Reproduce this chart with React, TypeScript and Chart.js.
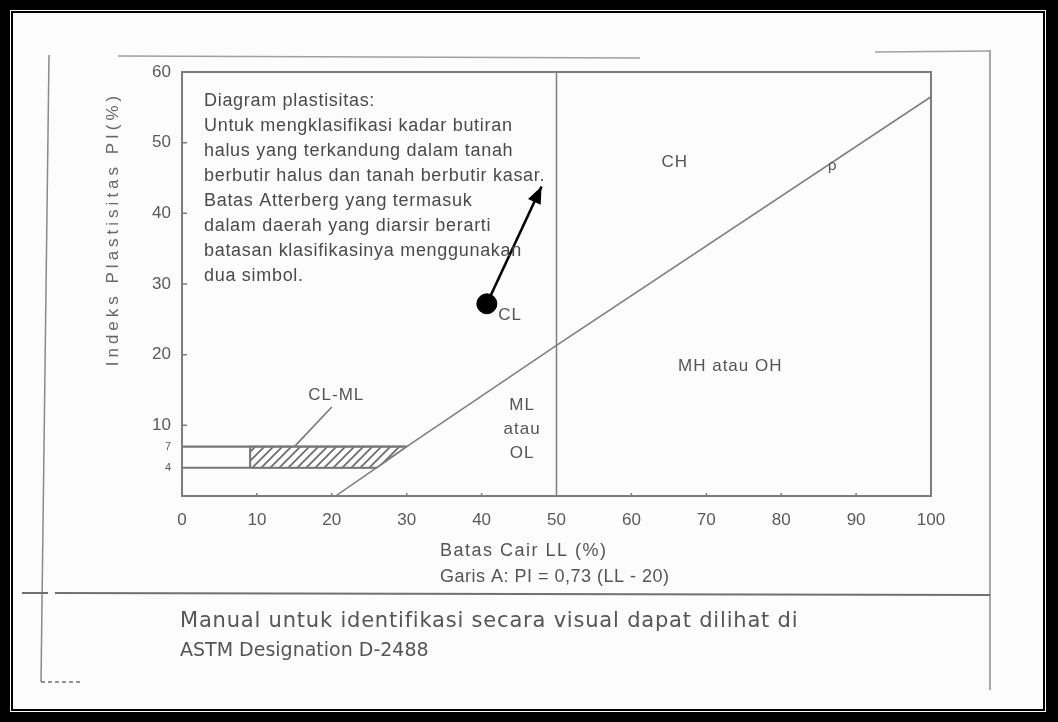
import React, { useEffect, useRef } from "react";
import { Chart, registerables } from "chart.js";

Chart.register(...registerables);

// ---------- data ----------
const xTickValues = [0, 10, 20, 30, 40, 50, 60, 70, 80, 90, 100];
const yTickValues = [4, 7, 10, 20, 30, 40, 50, 60];
const yTickLabels = ["4", "7", "10", "20", "30", "40", "50", "60"];

// A-line (Garis A)
const aLineLL = [20.5, 26, 30, 50, 100];
const aLinePI = [0, 4, 7, 21.3, 56.5];
// LL = 50 divider
const dividerLL = [50, 50];
const dividerPI = [0, 60];
// CL-ML band borders
const band7LL = [0, 30];
const band7PI = [7, 7];
const band4LL = [0, 26];
const band4PI = [4, 4];
const bandSplitLL = [9.1, 9.1];
const bandSplitPI = [4, 7];
// hatched (dual symbol) zone
const hatchLL = [9.1, 9.1, 30, 26, 9.1];
const hatchPI = [4, 7, 7, 4, 4];
// CL-ML leader line
const leaderLL = [20, 15.1];
const leaderPI = [12.6, 7.1];
// sample point and arrow
const sampleLL = [40.7];
const samplePI = [27.2];
const arrowLL = [40.7, 48];
const arrowPI = [27.2, 43.8];

// zone labels
const zoneLabels = ["CH", "MH atau OH", "CL", "ML", "atau", "OL", "CL-ML", "ρ"];
const zoneLL = [65.8, 73.2, 43.8, 45.4, 45.4, 45.4, 20.6, 86.9];
const zonePI = [47.2, 18.3, 25.5, 12.9, 9.4, 6.1, 14.3, 46.7];

const noteLines = [
  "Diagram plastisitas:",
  "Untuk mengklasifikasi kadar butiran",
  "halus yang terkandung dalam tanah",
  "berbutir halus dan tanah berbutir kasar.",
  "Batas Atterberg yang termasuk",
  "dalam daerah yang diarsir berarti",
  "batasan klasifikasinya menggunakan",
  "dua simbol.",
];

const xTitleLines = ["Batas Cair LL (%)", "Garis A: PI = 0,73 (LL - 20)"];
const yTitle = "Indeks Plastisitas PI(%)";
const footerLines = [
  "Manual untuk identifikasi secara visual dapat dilihat di",
  "ASTM Designation D-2488",
];

// ---------- helpers ----------
const FONT = "'Liberation Sans', Arial, sans-serif";
const WIDE = "'DejaVu Sans', 'Liberation Sans', sans-serif";
const INK = "#555";
const LINE = "#7d7d7d";

const pts = (xs: number[], ys: number[]) => xs.map((x, i) => ({ x, y: ys[i] }));

function makeHatch(): CanvasPattern | string {
  const c = document.createElement("canvas");
  c.width = 9;
  c.height = 9;
  const g = c.getContext("2d");
  if (!g) return "#ccc";
  g.fillStyle = "#fff";
  g.fillRect(0, 0, 9, 9);
  g.strokeStyle = "#6e6e6e";
  g.lineWidth = 1.8;
  g.beginPath();
  g.moveTo(-1, 10);
  g.lineTo(10, -1);
  g.moveTo(-1, 1);
  g.lineTo(1, -1);
  g.moveTo(8, 10);
  g.lineTo(10, 8);
  g.stroke();
  return g.createPattern(c, "repeat") || "#ccc";
}

function text(
  ctx: CanvasRenderingContext2D,
  s: string,
  x: number,
  y: number,
  font: string,
  color: string,
  align: CanvasTextAlign = "left",
  spacing = "0px"
) {
  ctx.save();
  ctx.font = font;
  ctx.fillStyle = color;
  ctx.textAlign = align;
  ctx.textBaseline = "middle";
  (ctx as any).letterSpacing = spacing;
  ctx.fillText(s, x, y);
  ctx.restore();
}

const decor = {
  id: "decor",
  beforeDraw(chart: any) {
    const ctx: CanvasRenderingContext2D = chart.ctx;
    ctx.save();
    ctx.strokeStyle = "#8a8a8a";
    ctx.lineWidth = 1.5;
    // page edges of the scanned sheet
    ctx.beginPath();
    ctx.moveTo(49, 55);
    ctx.lineTo(41, 682);
    ctx.moveTo(990, 50);
    ctx.lineTo(990, 690);
    ctx.stroke();
    ctx.strokeStyle = "#a0a0a0";
    ctx.lineWidth = 1.5;
    ctx.beginPath();
    ctx.moveTo(118, 56);
    ctx.lineTo(640, 58);
    ctx.moveTo(875, 52);
    ctx.lineTo(990, 51);
    ctx.stroke();
    ctx.strokeStyle = "#707070";
    ctx.lineWidth = 2;
    ctx.beginPath();
    ctx.moveTo(22, 593);
    ctx.lineTo(48, 593);
    ctx.moveTo(55, 593);
    ctx.lineTo(990, 595);
    ctx.stroke();
    ctx.setLineDash([4, 3]);
    ctx.lineWidth = 1.5;
    ctx.beginPath();
    ctx.moveTo(41, 682);
    ctx.lineTo(82, 682);
    ctx.stroke();
    ctx.restore();
  },
  afterDatasetsDraw(chart: any) {
    const ctx: CanvasRenderingContext2D = chart.ctx;
    const { left, right, top, bottom } = chart.chartArea;
    const xs = chart.scales.x;
    const ys = chart.scales.y;

    // plot box
    ctx.save();
    ctx.strokeStyle = LINE;
    ctx.lineWidth = 2;
    ctx.strokeRect(left, top, right - left, bottom - top);
    // small inward tick marks
    ctx.lineWidth = 1.5;
    ctx.beginPath();
    [10, 20, 30, 40, 50].forEach((v) => {
      const y = ys.getPixelForValue(v);
      ctx.moveTo(left, y);
      ctx.lineTo(left + 5, y);
    });
    [10, 20, 30, 40, 60, 70, 80, 90].forEach((v) => {
      const x = xs.getPixelForValue(v);
      ctx.moveTo(x, bottom);
      ctx.lineTo(x, bottom - 3);
    });
    ctx.stroke();
    ctx.restore();

    // arrow head
    const x1 = xs.getPixelForValue(arrowLL[0]);
    const y1 = ys.getPixelForValue(arrowPI[0]);
    const x2 = xs.getPixelForValue(arrowLL[1]);
    const y2 = ys.getPixelForValue(arrowPI[1]);
    const ang = Math.atan2(y2 - y1, x2 - x1);
    const hl = 17;
    const hw = 7;
    ctx.save();
    ctx.fillStyle = "#000";
    ctx.beginPath();
    ctx.moveTo(x2, y2);
    ctx.lineTo(x2 - hl * Math.cos(ang) + hw * Math.sin(ang), y2 - hl * Math.sin(ang) - hw * Math.cos(ang));
    ctx.lineTo(x2 - hl * Math.cos(ang) - hw * Math.sin(ang), y2 - hl * Math.sin(ang) + hw * Math.cos(ang));
    ctx.closePath();
    ctx.fill();
    ctx.restore();

    // note block
    noteLines.forEach((s, i) => {
      text(ctx, s, left + 22, top + 29 + i * 25, `18px ${FONT}`, "#4a4a4a", "left", "0.7px");
    });

    // zone labels
    zoneLabels.forEach((s, i) => {
      const f = s === "ρ" ? `15px ${FONT}` : `17px ${FONT}`;
      text(ctx, s, xs.getPixelForValue(zoneLL[i]), ys.getPixelForValue(zonePI[i]), f, INK, "center", "1px");
    });

    // axis titles
    text(ctx, xTitleLines[0], 440, 551, `18px ${FONT}`, INK, "left", "1.5px");
    text(ctx, xTitleLines[1], 440, 577, `18px ${FONT}`, INK, "left", "0.5px");
    ctx.save();
    ctx.translate(113, 229);
    ctx.rotate(-Math.PI / 2);
    text(ctx, yTitle, 0, 0, `17px ${FONT}`, "#666", "center", "4px");
    ctx.restore();

    // footer
    text(ctx, footerLines[0], 180, 622, `21px ${WIDE}`, INK, "left", "0.8px");
    text(ctx, footerLines[1], 180, 651, `19px ${WIDE}`, INK, "left", "0px");
  },
};

export default function App() {
  const ref = useRef<HTMLCanvasElement | null>(null);

  useEffect(() => {
    if (!ref.current) return;
    const hatch = makeHatch();
    const lineDs = (data: any[], color = LINE, width = 1.5) => ({
      data,
      showLine: true,
      fill: false,
      borderColor: color,
      borderWidth: width,
      pointRadius: 0,
      pointHoverRadius: 0,
    });
    const chart = new Chart(ref.current, {
      type: "scatter",
      data: {
        datasets: [
          {
            data: pts(sampleLL, samplePI),
            pointRadius: 10,
            pointHoverRadius: 10,
            backgroundColor: "#000",
            borderColor: "#000",
            showLine: false,
          },
          lineDs(pts(arrowLL, arrowPI), "#000", 2.6),
          lineDs(pts(aLineLL, aLinePI)),
          lineDs(pts(dividerLL, dividerPI)),
          lineDs(pts(band7LL, band7PI), "#777", 2.2),
          lineDs(pts(band4LL, band4PI), "#777", 2.2),
          lineDs(pts(bandSplitLL, bandSplitPI), "#777", 2),
          lineDs(pts(leaderLL, leaderPI), "#777", 1.6),
          {
            data: pts(hatchLL, hatchPI),
            showLine: true,
            fill: "shape",
            backgroundColor: hatch as any,
            borderColor: "#777",
            borderWidth: 1.5,
            pointRadius: 0,
            pointHoverRadius: 0,
          } as any,
        ],
      },
      options: {
        animation: false,
        responsive: false,
        devicePixelRatio: 1,
        events: [],
        layout: { padding: { left: 142, top: 72, right: 127, bottom: 186 } },
        plugins: {
          legend: { display: false },
          tooltip: { enabled: false },
          title: { display: false },
        },
        scales: {
          x: {
            type: "linear",
            min: 0,
            max: 100,
            afterBuildTicks: (s: any) => {
              s.ticks = xTickValues.map((v) => ({ value: v }));
            },
            ticks: {
              font: { family: FONT, size: 17 },
              color: "#5a5a5a",
              padding: 14,
              maxRotation: 0,
              autoSkip: false,
            },
            grid: { display: false, drawTicks: false },
            border: { display: false },
            afterFit: (s: any) => {
              s.height = 40;
            },
          },
          y: {
            type: "linear",
            min: 0,
            max: 60,
            afterBuildTicks: (s: any) => {
              s.ticks = yTickValues.map((v) => ({ value: v }));
            },
            ticks: {
              callback: (v: any) => {
                const i = yTickValues.indexOf(Number(v));
                return i >= 0 ? yTickLabels[i] : "";
              },
              font: (c: any) => ({
                family: FONT,
                size: c.tick && c.tick.value < 10 ? 11 : 17,
              }),
              color: "#5a5a5a",
              padding: 11,
              autoSkip: false,
            },
            grid: { display: false, drawTicks: false },
            border: { display: false },
            afterFit: (s: any) => {
              s.width = 40;
            },
          },
        },
      },
      plugins: [decor],
    });
    return () => chart.destroy();
  }, []);

  return (
    <div style={{ position: "fixed", left: 0, top: 0, width: 1058, height: 722, background: "#000" }}>
      <div style={{ position: "absolute", left: 10, top: 10, right: 12, bottom: 10, background: "#fff" }} />
      <div
        style={{
          position: "absolute",
          left: 11,
          top: 11,
          right: 13,
          bottom: 11,
          border: "2px solid #000",
          background: "#fcfcfc",
          boxSizing: "border-box",
        }}
      />
      <canvas
        ref={ref}
        width={1058}
        height={722}
        style={{ position: "absolute", left: 0, top: 0, width: 1058, height: 722 }}
      />
    </div>
  );
}
